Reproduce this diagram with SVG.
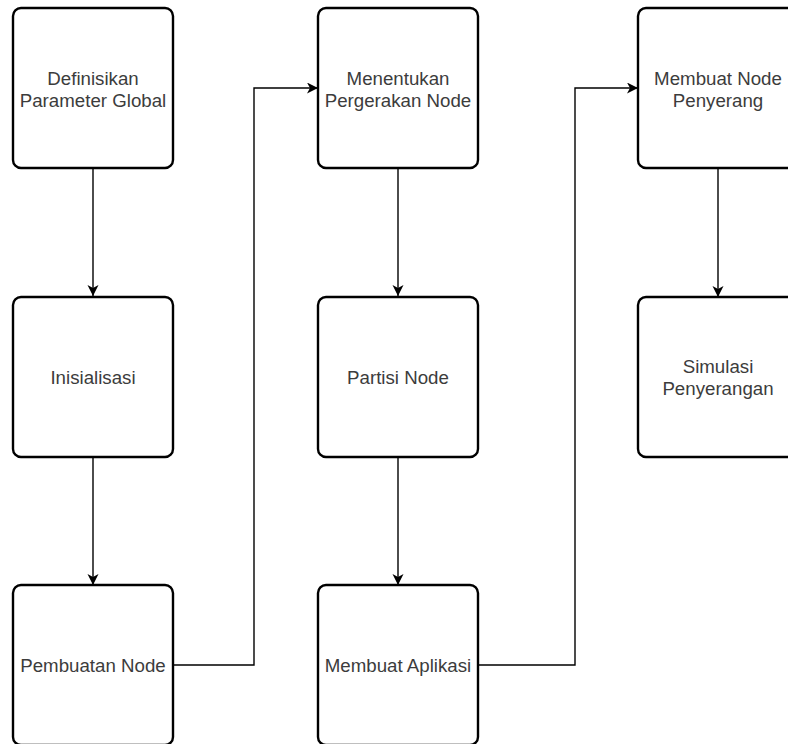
<svg xmlns="http://www.w3.org/2000/svg" width="788" height="744" viewBox="0 0 788 744">
<defs>
<style>
.box{fill:#ffffff;stroke:#000000;stroke-width:2.4}
.lbl{font-family:"Liberation Sans",Arial,sans-serif;font-size:18.7px;fill:#3c3c3c;text-anchor:middle}
.edge{fill:none;stroke:#000000;stroke-width:1.4}
</style>
<marker id="arr" markerUnits="userSpaceOnUse" markerWidth="12" markerHeight="12" refX="11" refY="5.5" orient="auto">
<path d="M0,0 L11,5.5 L0,11 L3,5.5 z" fill="#000000"/>
</marker>
</defs>
<rect width="788" height="744" fill="#ffffff"/>
<g id="edges">
<path class="edge" d="M93,168 L93,296" marker-end="url(#arr)"/>
<path class="edge" d="M93,457 L93,585" marker-end="url(#arr)"/>
<path class="edge" d="M173,665 L254,665 L254,88 L318,88" marker-end="url(#arr)"/>
<path class="edge" d="M398,168 L398,296" marker-end="url(#arr)"/>
<path class="edge" d="M398,457 L398,585" marker-end="url(#arr)"/>
<path class="edge" d="M478,665 L575,665 L575,88 L638,88" marker-end="url(#arr)"/>
<path class="edge" d="M718,168 L718,297" marker-end="url(#arr)"/>
</g>
<g id="n1"><rect class="box" x="13" y="8" width="160" height="160" rx="8"/><text class="lbl" x="93" y="85">Definisikan</text><text class="lbl" x="93" y="107">Parameter Global</text></g>
<g id="n2"><rect class="box" x="13" y="297" width="160" height="160" rx="8"/><text class="lbl" x="93" y="384">Inisialisasi</text></g>
<g id="n3"><rect class="box" x="13" y="585" width="160" height="160" rx="8"/><text class="lbl" x="93" y="672">Pembuatan Node</text></g>
<g id="n4"><rect class="box" x="318" y="8" width="160" height="160" rx="8"/><text class="lbl" x="398" y="85">Menentukan</text><text class="lbl" x="398" y="107">Pergerakan Node</text></g>
<g id="n5"><rect class="box" x="318" y="297" width="160" height="160" rx="8"/><text class="lbl" x="398" y="384">Partisi Node</text></g>
<g id="n6"><rect class="box" x="318" y="585" width="160" height="160" rx="8"/><text class="lbl" x="398" y="672">Membuat Aplikasi</text></g>
<g id="n7"><rect class="box" x="638" y="8" width="160" height="160" rx="8"/><text class="lbl" x="718" y="85">Membuat Node</text><text class="lbl" x="718" y="107">Penyerang</text></g>
<g id="n8"><rect class="box" x="638" y="297" width="160" height="160" rx="8"/><text class="lbl" x="718" y="373">Simulasi</text><text class="lbl" x="718" y="395">Penyerangan</text></g>
</svg>
